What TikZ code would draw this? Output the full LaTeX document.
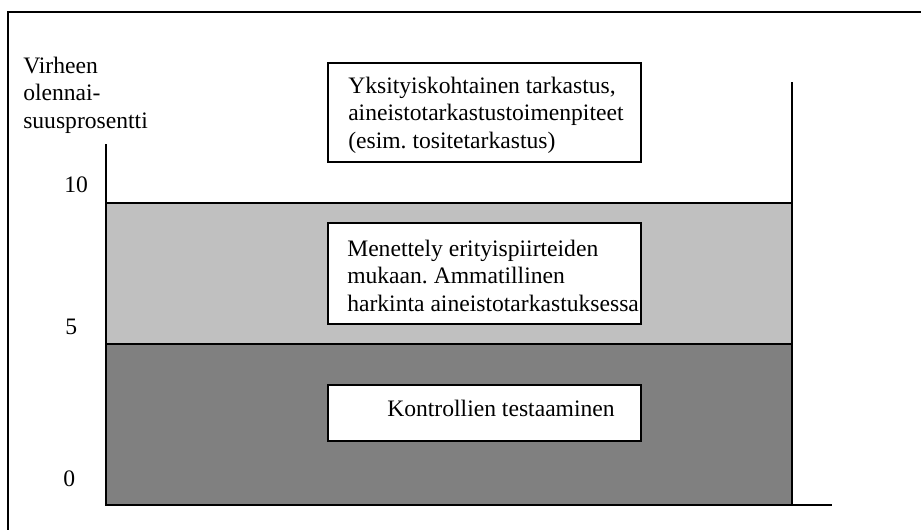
\documentclass[tikz,border=0pt]{standalone}
\usepackage{fontspec}
\setmainfont{Liberation Serif}
\frenchspacing
\definecolor{bandlight}{HTML}{C0C0C0}
\definecolor{banddark}{HTML}{808080}
\begin{document}
\begin{tikzpicture}[x=0.75pt,y=-0.75pt,
  every node/.style={font=\fontsize{17.7}{20.4}\selectfont},
  frame/.style={line width=1.1pt},
  axis/.style={line width=1.5pt},
  band/.style={draw=black,line width=1.2pt},
  textbox/.style={draw=black,fill=white,line width=1.1pt,rectangle,
    minimum width=313*0.75pt,inner xsep=0pt,inner ysep=0pt,outer sep=0pt},
  lines/.style={anchor=base west,inner sep=0pt,align=left},
  tick/.style={anchor=base west,inner sep=0pt}]
\useasboundingbox (0,0) rectangle (921,529);
% outer frame (open to the right and bottom)
\draw[frame] (8,540) -- (8,12) -- (930,12);
% shaded bands
\fill[bandlight] (106,203) rectangle (792,344);
\fill[banddark] (106,344) rectangle (792,505);
\draw[band] (106,203) -- (792,203);
\draw[band] (106,344) -- (792,344);
% axes
\draw[axis] (106,144) -- (106,505) -- (832,505);
\draw[axis] (792,82) -- (792,505);
% axis title and scale (multi-line nodes sit on their last baseline)
\node[lines] (title) at (23,128)
  {Virheen\\olennai-\\suusprosentti};
\node[tick] (t10) at (64,192) {10};
\node[tick] (t5) at (65,334) {5};
\node[tick] (t0) at (63,486) {0};
% text boxes
\node[textbox,minimum height=99*0.75pt] (detail) at (484.5,112.5) {};
\node[lines] (detailtxt) at (348,148)
  {Yksityiskohtainen tarkastus,\\aineistotarkastustoimenpiteet\\(esim. tositetarkastus)};
\node[textbox,minimum height=101*0.75pt] (special) at (484.5,273.5) {};
\node[lines] (specialtxt) at (347,311)
  {Menettely erityispiirteiden\\mukaan. Ammatillinen\\harkinta aineistotarkastuksessa};
\node[textbox,minimum height=56*0.75pt] (controls) at (484.5,413) {};
\node[tick] (controlstxt) at (387,416) {Kontrollien testaaminen};
\end{tikzpicture}
\end{document}
